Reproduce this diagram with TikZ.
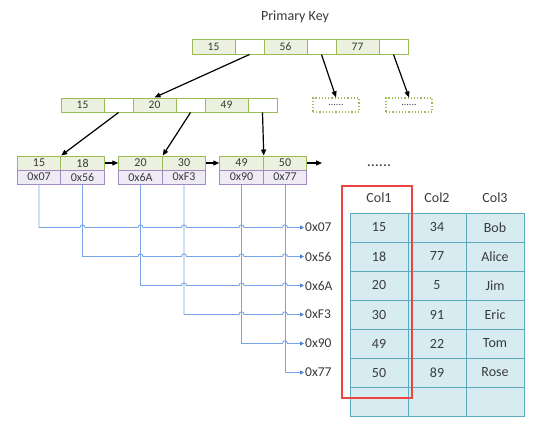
\documentclass[tikz,border=0pt]{standalone}
\usepackage{fontspec}
\setmainfont{Carlito}
\usetikzlibrary{arrows.meta}

\definecolor{keygreen}{HTML}{9BBB59}
\definecolor{keyfill}{HTML}{EBF1DE}
\definecolor{addrpurple}{HTML}{A08CC2}
\definecolor{addrfill}{HTML}{EFEBF4}
\definecolor{rowteal}{HTML}{5DA9BC}
\definecolor{rowfill}{HTML}{D6ECF1}
\definecolor{wireblue}{HTML}{78A4E6}
\definecolor{tipblue}{HTML}{4A7FCF}
\definecolor{boxred}{HTML}{EE4444}
\definecolor{txt}{HTML}{3A3A3A}

\tikzset{
  key/.style={draw=keygreen, fill=keyfill, line width=1pt, minimum width=43pt,
    minimum height=14pt, inner sep=0pt, text=txt, font=\fontsize{11.5}{12}\selectfont},
  ptr/.style={key, fill=white, minimum width=29pt},
  leafkey/.style={key, minimum width=43.5pt, font=\fontsize{12}{12}\selectfont},
  addr/.style={leafkey, draw=addrpurple, fill=addrfill},
  more/.style={draw=keygreen, dotted, line width=1.2pt, minimum width=46pt,
    minimum height=14pt, inner sep=0pt, text=txt, font=\fontsize{10}{10}\selectfont},
  row/.style={draw=rowteal, fill=rowfill, line width=1pt, minimum width=58pt,
    minimum height=29pt, inner sep=0pt, text=txt, font=\fontsize{14}{16}\selectfont},
  head/.style={text=txt, font=\fontsize{14}{16}\selectfont},
  ref/.style={anchor=west, inner sep=1pt, text=txt, font=\fontsize{13.5}{16}\selectfont},
  link/.style={-{Triangle[length=6pt,width=5pt]}, line width=1.2pt},
  wire/.style={draw=wireblue, line width=0.9pt, -{Triangle[length=4pt,width=4pt,color=tipblue]}},
}

\begin{document}
\begin{tikzpicture}[x=1pt,y=-1pt]
    \useasboundingbox (0,0) rectangle (553,428);

    % root page
    \node[head] (pk) at (295,17) {Primary Key};
    \node[key] (t1) at (213.5,47) {15};
    \node[ptr] (t1p) at (249.5,47) {};
    \node[key] (t2) at (285.5,47) {56};
    \node[ptr] (t2p) at (321.5,47) {};
    \node[key] (t3) at (357.5,47) {77};
    \node[ptr] (t3p) at (393.5,47) {};

    % inner page
    \node[key] (m1) at (82.5,105) {15};
    \node[ptr] (m1p) at (118.5,105) {};
    \node[key] (m2) at (154.5,105) {20};
    \node[ptr] (m2p) at (190.5,105) {};
    \node[key] (m3) at (226.5,105) {49};
    \node[ptr] (m3p) at (262.5,105) {};
    \node[more] (d1) at (336,105) {......};
    \node[more] (d2) at (409,105) {......};

    % leaf pages
    \node[leafkey] (l1a) at (39,163) {15};
    \node[leafkey] (l1b) at (82.5,163) {18};
    \node[leafkey] (l2a) at (140.5,163) {20};
    \node[leafkey] (l2b) at (184,163) {30};
    \node[leafkey] (l3a) at (241.5,163) {49};
    \node[leafkey] (l3b) at (285,163) {50};
    \node[addr] (a1a) at (39,177) {0x07};
    \node[addr] (a1b) at (82.5,177) {0x56};
    \node[addr] (a2a) at (140.5,177) {0x6A};
    \node[addr] (a2b) at (184,177) {0xF3};
    \node[addr] (a3a) at (241.5,177) {0x90};
    \node[addr] (a3b) at (285,177) {0x77};
    \coordinate (lnext) at (322,163);

    \draw[link] (t1p.south) -- (m2.north);
    \draw[link] (t2p.south) -- (d1.north);
    \draw[link] (t3p.south) -- (d2.north);
    \draw[link] (m1p.south) -- (l1a.north east);
    \draw[link] (m2p.south) -- (l2a.north east);
    \draw[link] (m3p.south) -- (l3a.north east);
    \draw[link] (l1b.east) -- (l2a.west);
    \draw[link] (l2b.east) -- (l3a.west);
    \draw[link] (l3b.east) -- (lnext);

    % row addresses
    \node[ref] (r1) at (304,227.5) {0x07};
    \node[ref] (r2) at (304,256.5) {0x56};
    \node[ref] (r3) at (304,285.5) {0x6A};
    \node[ref] (r4) at (304,314.5) {0xF3};
    \node[ref] (r5) at (304,343.5) {0x90};
    \node[ref] (r6) at (304,372.5) {0x77};

    \draw[wire] (a1a.south) -- (39,227.5)
        foreach \x in {82.5,140.5,184,241.5,285} {-- ({\x-2.5},227.5) .. controls ({\x-2.5},224) and ({\x+2.5},224) .. ({\x+2.5},227.5)}
        -- (r1.west);
    \draw[wire] (a1b.south) -- (82.5,256.5)
        foreach \x in {140.5,184,241.5,285} {-- ({\x-2.5},256.5) .. controls ({\x-2.5},253) and ({\x+2.5},253) .. ({\x+2.5},256.5)}
        -- (r2.west);
    \draw[wire] (a2a.south) -- (140.5,285.5)
        foreach \x in {184,241.5,285} {-- ({\x-2.5},285.5) .. controls ({\x-2.5},282) and ({\x+2.5},282) .. ({\x+2.5},285.5)}
        -- (r3.west);
    \draw[wire] (a2b.south) -- (184,314.5)
        foreach \x in {241.5,285} {-- ({\x-2.5},314.5) .. controls ({\x-2.5},311) and ({\x+2.5},311) .. ({\x+2.5},314.5)}
        -- (r4.west);
    \draw[wire] (a3a.south) -- (241.5,343.5)
        -- (282.5,343.5) .. controls (282.5,340) and (287.5,340) .. (287.5,343.5)
        -- (r5.west);
    \draw[wire] (a3b.south) |- (r6.west);

    % table
    \node[head] (dots) at (379,166) {\fontsize{16}{16}\selectfont ......};
    \node[head] (h1) at (379,198) {Col1};
    \node[head] (h2) at (437,198) {Col2};
    \node[head] (h3) at (495,198) {Col3};
    \node[row] (c11) at (379,227.5) {15};    \node[row] (c12) at (437,227.5) {34};  \node[row] (c13) at (495,227.5) {Bob};
    \node[row] (c21) at (379,256.5) {18};    \node[row] (c22) at (437,256.5) {77};  \node[row] (c23) at (495,256.5) {Alice};
    \node[row] (c31) at (379,285.5) {20};    \node[row] (c32) at (437,285.5) {5};   \node[row] (c33) at (495,285.5) {Jim};
    \node[row] (c41) at (379,314.5) {30};    \node[row] (c42) at (437,314.5) {91};  \node[row] (c43) at (495,314.5) {Eric};
    \node[row] (c51) at (379,343.5) {49};    \node[row] (c52) at (437,343.5) {22};  \node[row] (c53) at (495,343.5) {Tom};
    \node[row] (c61) at (379,372.5) {50};    \node[row] (c62) at (437,372.5) {89};  \node[row] (c63) at (495,372.5) {Rose};
    \node[row] (c71) at (379,401.5) {};      \node[row] (c72) at (437,401.5) {};    \node[row] (c73) at (495,401.5) {};

    \draw[boxred, line width=1.2pt] (342,186) rectangle (412,398);
\end{tikzpicture}
\end{document}
